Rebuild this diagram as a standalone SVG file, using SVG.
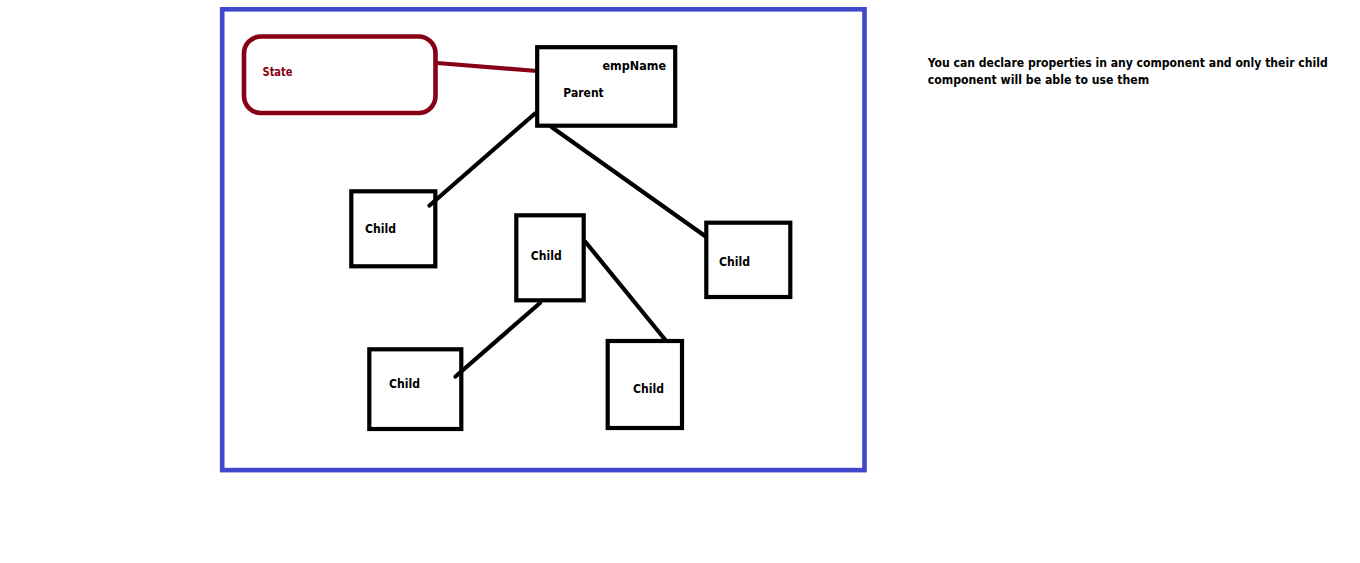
<svg xmlns="http://www.w3.org/2000/svg" width="1360" height="563" viewBox="0 0 1360 563">
<style>
.box{fill:none;stroke:#000;stroke-width:4.2}
.edge{stroke:#000;stroke-width:4.2;stroke-linecap:round;fill:none}
.lbl{font-family:"DejaVu Sans","Liberation Sans",sans-serif;font-weight:bold;font-size:11.5px;fill:#000}
</style>
<rect width="1360" height="563" fill="#fff"/>
<rect id="frame" x="222.2" y="9.3" width="642.3" height="460.8" fill="none" stroke="#3f48cc" stroke-width="4.6"/>
<g id="connectors">
<line x1="437" y1="63" x2="537" y2="71" stroke="#880015" stroke-width="4.2" stroke-linecap="round"/>
<line class="edge" x1="535" y1="113.5" x2="429.5" y2="205.5"/>
<line class="edge" x1="551.5" y1="127" x2="705" y2="236"/>
<line class="edge" x1="540" y1="303" x2="455.5" y2="376.5"/>
<line class="edge" x1="585.5" y1="242" x2="665" y2="339.5"/>
</g>
<g id="state">
<rect x="244" y="36.5" width="191.5" height="76.5" rx="17" ry="17" fill="none" stroke="#880015" stroke-width="4.6"/>
<text class="lbl" x="262.5" y="76" fill="#880015" style="fill:#880015" textLength="30" lengthAdjust="spacingAndGlyphs">State</text>
</g>
<g id="parent">
<rect class="box" x="537.2" y="47.2" width="138" height="78.5"/>
<text class="lbl" x="602.5" y="70" textLength="63.5" lengthAdjust="spacingAndGlyphs">empName</text>
<text class="lbl" x="563.3" y="97" textLength="40.5" lengthAdjust="spacingAndGlyphs">Parent</text>
</g>
<g id="child1">
<rect class="box" x="351.3" y="191.3" width="84" height="75"/>
<text class="lbl" x="365" y="232.5" textLength="31" lengthAdjust="spacingAndGlyphs">Child</text>
</g>
<g id="child2">
<rect class="box" x="516.3" y="215.3" width="67.4" height="85"/>
<text class="lbl" x="530.7" y="259.5" textLength="31" lengthAdjust="spacingAndGlyphs">Child</text>
</g>
<g id="child3">
<rect class="box" x="706.3" y="222.7" width="84" height="74.3"/>
<text class="lbl" x="719" y="265.5" textLength="31" lengthAdjust="spacingAndGlyphs">Child</text>
</g>
<g id="child4">
<rect class="box" x="369.3" y="349.3" width="92" height="79.7"/>
<text class="lbl" x="389" y="387.5" textLength="31" lengthAdjust="spacingAndGlyphs">Child</text>
</g>
<g id="child5">
<rect class="box" x="607.7" y="341" width="74.3" height="87"/>
<text class="lbl" x="633" y="392.5" textLength="31" lengthAdjust="spacingAndGlyphs">Child</text>
</g>
<g id="note">
<text class="lbl" x="927.7" y="67" textLength="400" lengthAdjust="spacingAndGlyphs">You can declare properties in any component and only their child</text>
<text class="lbl" x="927.7" y="84" textLength="221.5" lengthAdjust="spacingAndGlyphs">component will be able to use them</text>
</g>
</svg>
